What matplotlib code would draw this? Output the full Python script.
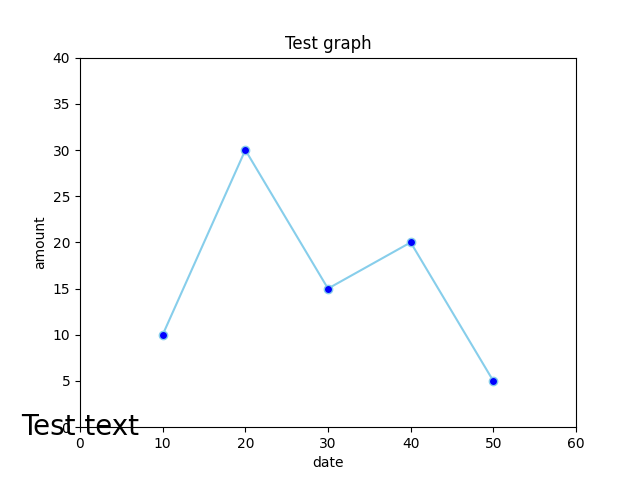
import matplotlib
matplotlib.use("Agg")
import matplotlib.pyplot as plt

# Дані графіка
dates = [10, 20, 30, 40, 50]
amounts = [10, 30, 15, 20, 5]

fig = plt.figure(figsize=(6.4, 4.8), dpi=100)
plt.plot(dates, amounts, color="skyblue", marker="o",
         markerfacecolor="blue", markeredgecolor="skyblue", markersize=6)
plt.xlim(0, 60)
plt.ylim(0, 40)
plt.xlabel("date")
plt.ylabel("amount")
plt.title("Test graph")
fig.text(0.033, 0.094, "Test text", fontsize=20)
plt.savefig("out.png")
